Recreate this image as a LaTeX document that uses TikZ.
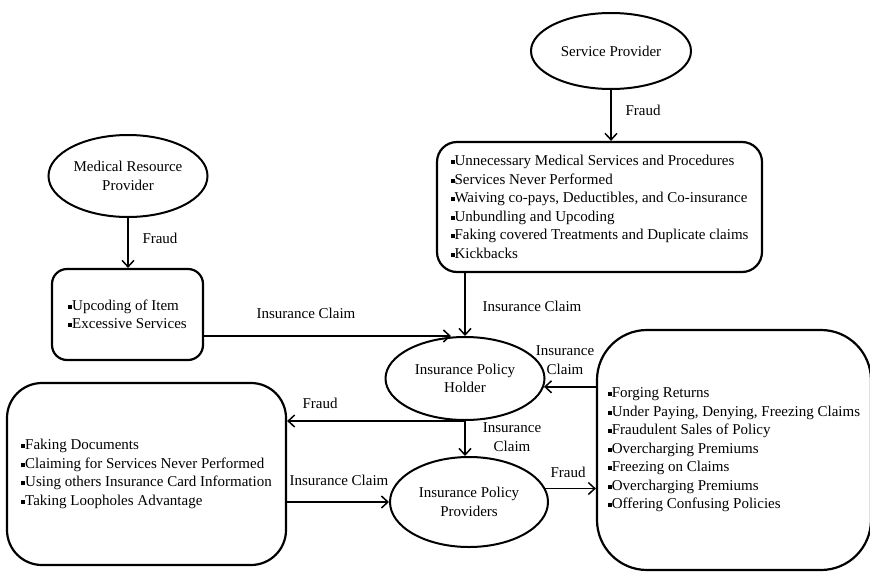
\documentclass[tikz,border=0pt]{standalone}
\usepackage{fontspec}
\setmainfont{Liberation Serif}
\usetikzlibrary{arrows.meta,shapes.geometric}
\newcommand{\sqb}{\rule[0.26ex]{4pt}{4pt}}
\begin{document}
\begin{tikzpicture}[x=1pt,y=-1pt,
  every node/.style={font=\fontsize{15}{18.5}\selectfont},
  party/.style={draw,ellipse,line width=2pt,inner sep=0pt,align=center},
  listbox/.style={draw,rounded corners=#1,line width=2.2pt,inner sep=0pt,align=left},
  flow/.style={line width=1.6pt,-{Straight Barb[length=6.5pt,width=12pt,line width=1.5pt]}},
  tag/.style={inner sep=0pt,align=center}]
\useasboundingbox (0,0) rectangle (870,573);

% parties
\node[party,minimum width=160pt,minimum height=76pt] (sp) at (611,51) {Service Provider};
\node[party,minimum width=159pt,minimum height=82pt] (mrp) at (128,176) {Medical Resource\\Provider};
\node[party,minimum width=159pt,minimum height=83pt] (holder) at (465,378.5) {Insurance Policy\\Holder};
\node[party,minimum width=158pt,minimum height=90pt] (prov) at (469,502) {Insurance Policy\\Providers};

% fraud lists
\node[listbox=20pt,minimum width=325pt,minimum height=130pt] (spbox) at (599.5,207)
  {\sqb Unnecessary Medical Services and Procedures\\
   \sqb Services Never Performed\\
   \sqb Waiving co-pays, Deductibles, and Co-insurance\\
   \sqb Unbundling and Upcoding\\
   \sqb Faking covered Treatments and Duplicate claims\\
   \sqb Kickbacks};
\node[listbox=15pt,minimum width=151pt,minimum height=91pt] (mrpbox) at (127.5,314.5)
  {\sqb Upcoding of Item\\
   \sqb Excessive Services};
\node[listbox=35pt,minimum width=279pt,minimum height=182pt] (hbox) at (146.5,474)
  {\sqb Faking Documents\\
   \sqb Claiming for Services Never Performed\\
   \sqb Using others Insurance Card Information\\
   \sqb Taking Loopholes Advantage};
\node[listbox=50pt,minimum width=274pt,minimum height=240pt] (pbox) at (734,450)
  {\sqb Forging Returns\\
   \sqb Under Paying, Denying, Freezing Claims\\
   \sqb Fraudulent Sales of Policy\\
   \sqb Overcharging Premiums\\
   \sqb Freezing on Claims\\
   \sqb Overcharging Premiums\\
   \sqb Offering Confusing Policies};

% connectors
\coordinate (hin) at ([xshift=-14pt]holder.north);
\draw[flow] (sp.south) -- (sp.south |- spbox.north);
\draw[flow] (mrp.south) -- (mrp.south |- mrpbox.north);
\draw[flow] (holder.north |- spbox.south) -- (holder.north);
\draw[flow] (mrpbox.east |- hin) -- (hin);
\draw[flow] (pbox.west |- holder.-6) -- (holder.-6);
\draw[flow] (holder.south) -- (holder.south |- prov.north);
\draw[flow] (holder.south) -- (holder.south -| hbox.east);
\draw[flow] (hbox.east |- prov.west) -- (prov.west);
\draw[flow] (prov.10) -- (prov.10 -| pbox.west);

% labels
\node[tag] (l1) at (643,110) {Fraud};
\node[tag] (l2) at (160,238) {Fraud};
\node[tag] (l3) at (532,306) {Insurance Claim};
\node[tag] (l4) at (306,313) {Insurance Claim};
\node[tag] (l5) at (565,360) {Insurance\\Claim};
\node[tag] (l6) at (512,437) {Insurance\\Claim};
\node[tag] (l7) at (320,403) {Fraud};
\node[tag] (l8) at (339,480) {Insurance Claim};
\node[tag] (l9) at (568,472) {Fraud};
\end{tikzpicture}
\end{document}
